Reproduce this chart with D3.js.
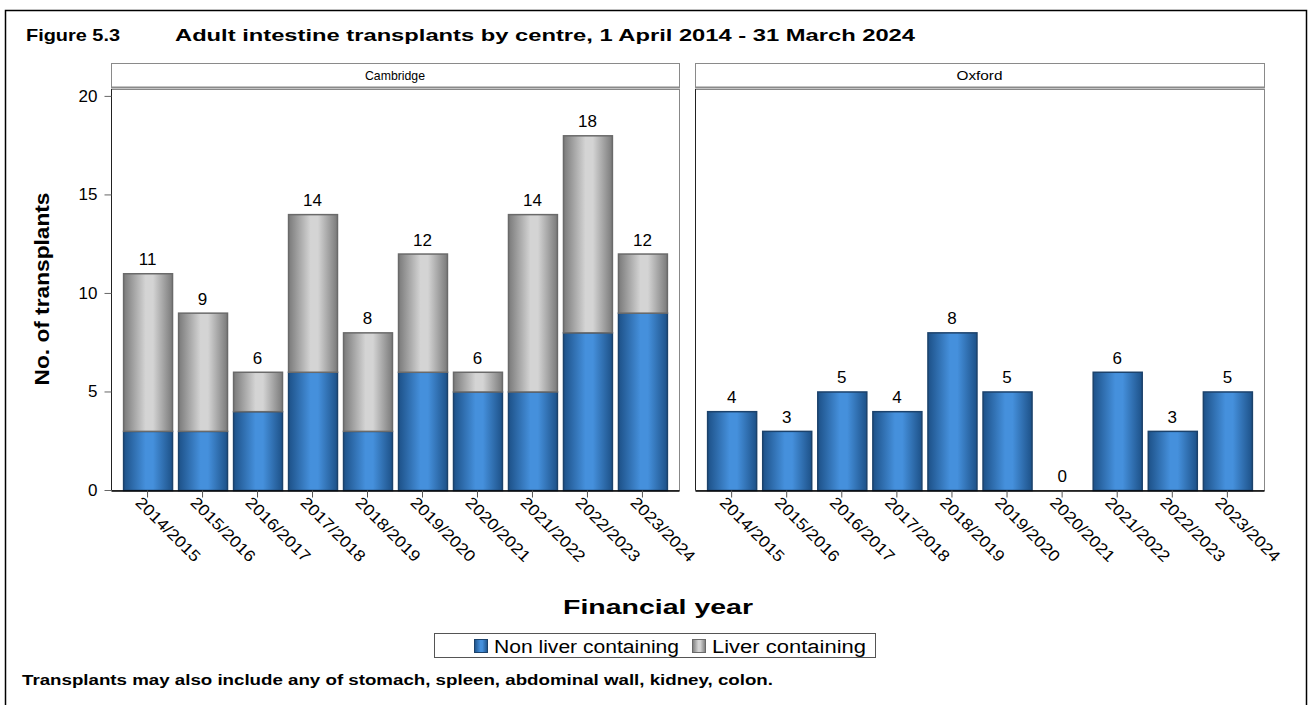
<!DOCTYPE html>
<meta charset="utf-8">
<head>
<style>
  body { margin:0; background:#fff; font-family: Arial, "Liberation Sans", sans-serif; }
  svg text { font-family: Arial, "Liberation Sans", sans-serif; }
</style>
</head>
<body>
<svg id="chart" width="1309" height="705"></svg>
<script src="https://cdn.jsdelivr.net/npm/d3@7"></script>
<script>

// data
var years = ["2014/2015","2015/2016","2016/2017","2017/2018","2018/2019","2019/2020","2020/2021","2021/2022","2022/2023","2023/2024"]
var centres = ["Cambridge","Oxford"]
var camNonLiver = [3,3,4,6,3,6,5,5,8,9]
var camLiver    = [8,6,2,8,5,6,1,9,10,3]
var oxfNonLiver = [4,3,5,4,8,5,0,6,3,5]
var oxfLiver    = [0,0,0,0,0,0,0,0,0,0]
var yTicks = [0,5,10,15,20]
var seriesNames = ["Non liver containing","Liver containing"]

var svg = d3.select("#chart")

// outer frame (bottom edge is off the picture)
svg.append("rect").attr("x",5.5).attr("y",10.5).attr("width",1301).attr("height",720)
  .attr("fill","none").attr("stroke","#000").attr("stroke-width",1.5)

// small helper: text stretched to a width, like the original output
function label(x, y, txt, size, width, bold, anchor) {
  var t = svg.append("text").attr("x",x).attr("y",y).text(txt)
    .style("font-size",size+"px").attr("text-anchor",anchor || "start")
  if (bold) t.style("font-weight","bold")
  if (width) t.attr("textLength",width).attr("lengthAdjust","spacingAndGlyphs")
  return t
}

// title
label(26, 41, "Figure 5.3", 17, 94, true)
label(175, 41, "Adult intestine transplants by centre, 1 April 2014 - 31 March 2024", 17, 740, true)

// gradients
var defs = svg.append("defs")
function grad(id, edge, mid) {
  var g = defs.append("linearGradient").attr("id",id).attr("x1","0%").attr("x2","100%").attr("y1","0%").attr("y2","0%")
  g.append("stop").attr("offset","0%").attr("stop-color",edge)
  g.append("stop").attr("offset","45%").attr("stop-color",mid)
  g.append("stop").attr("offset","60%").attr("stop-color",mid)
  g.append("stop").attr("offset","100%").attr("stop-color",edge)
}
grad("gBlue","#1d5188","#4590dc")
grad("gGrey","#7a7a7a","#d4d4d4")
var fills = ["url(#gBlue)","url(#gGrey)"]
var strokes = ["#1c426b","#6a6a6a"]

var plotTop = 89, plotBottom = 490
var panels = [
  {name:"Cambridge", x0:111, x1:679, series:[camNonLiver,camLiver], w:60},
  {name:"Oxford",    x0:695, x1:1264, series:[oxfNonLiver,oxfLiver], w:46}
]

var y = d3.scaleLinear().domain([0,20.35]).range([plotBottom, plotTop])

panels.forEach(function(p, pi){
  var g = svg.append("g")

  // strip header
  g.append("rect").attr("x",p.x0+0.5).attr("y",63.5).attr("width",p.x1-p.x0).attr("height",24)
    .attr("fill","#fff").attr("stroke","#8a8a8a").attr("stroke-width",1)
  g.append("line").attr("x1",p.x0).attr("x2",p.x1+1).attr("y1",87.5).attr("y2",87.5)
    .attr("stroke","#8a8a8a").attr("stroke-width",2)
  g.append("text").attr("x",(p.x0+p.x1)/2).attr("y",80).attr("text-anchor","middle")
    .text(p.name).style("font-size","13px")
    .attr("textLength",p.w).attr("lengthAdjust","spacingAndGlyphs")

  // plot frame
  g.append("rect").attr("x",p.x0+0.5).attr("y",plotTop+0.5).attr("width",p.x1-p.x0).attr("height",plotBottom-plotTop)
    .attr("fill","none").attr("stroke","#888").attr("stroke-width",1)
  g.append("line").attr("x1",p.x0+0.5).attr("x2",p.x0+0.5).attr("y1",plotTop).attr("y2",plotBottom)
    .attr("stroke","#222")

  var x = d3.scaleBand().domain(years).range([p.x0, p.x1]).paddingInner(0.11).paddingOuter(0.22)

  // stack data
  var rows = years.map(function(yr,i){ return {year:yr, a:p.series[0][i], b:p.series[1][i]} })
  var stacked = d3.stack().keys(["a","b"])(rows)

  stacked.forEach(function(layer, li){
    g.selectAll(".bar"+li)
      .data(layer.filter(function(d){ return d[1] > d[0] }))
      .enter()
      .append("rect")
        .attr("x", function(d){ return x(d.data.year) + 0.5 })
        .attr("y", function(d){ return y(d[1]) + 0.5 })
        .attr("width", x.bandwidth())
        .attr("height", function(d){ return y(d[0]) - y(d[1]) })
        .attr("fill", fills[li])
        .attr("stroke", strokes[li])
        .attr("stroke-width", 1.5)
  })

  // totals
  g.selectAll(".tot")
    .data(rows)
    .enter()
    .append("text")
      .attr("x", function(d){ return x(d.year) + x.bandwidth()/2 })
      .attr("y", function(d){ return y(d.a + d.b) - 8 })
      .attr("text-anchor","middle")
      .style("font-size","17px")
      .text(function(d){ return d.a + d.b })

  // x axis
  var xAxis = g.append("g").attr("transform","translate(0," + (plotBottom+0.5) + ")")
    .call(d3.axisBottom(x).tickSize(7).tickSizeOuter(0))
  xAxis.select(".domain").attr("stroke","#000").attr("stroke-width",1.5)
  xAxis.selectAll(".tick line").attr("stroke","#555")
  xAxis.selectAll(".tick text")
    .style("font-size","16px").style("fill","#000")
    .attr("text-anchor","start")
    .attr("dy",0)
    .attr("transform","translate(-13,13) rotate(45)")
    .attr("y",0)
    .attr("x",0)
    .attr("textLength",84).attr("lengthAdjust","spacingAndGlyphs")

  // y axis (labels on left panel only)
  var yAxis = g.append("g").attr("transform","translate(" + (p.x0+0.5) + ",0)")
    .call(d3.axisLeft(y).tickValues(yTicks).tickSize(7).tickSizeOuter(0))
  yAxis.select(".domain").remove()
  yAxis.selectAll(".tick line").attr("stroke","#666")
  yAxis.selectAll(".tick text").style("font-size","17px").style("fill","#000").attr("x",-14)
  if (pi == 1) yAxis.remove()
})

// axis titles
svg.append("text").attr("transform","translate(49,289) rotate(-90)").attr("text-anchor","middle")
  .text("No. of transplants").style("font-size","20px").style("font-weight","bold")
  .attr("textLength",193).attr("lengthAdjust","spacingAndGlyphs")
label(658, 614, "Financial year", 20, 190, true, "middle")

// legend
var lg = svg.append("g")
lg.append("rect").attr("x",434.5).attr("y",633.5).attr("width",441).attr("height",24)
  .attr("fill","#fff").attr("stroke","#555")
var legX = [474, 692], legW = [185, 154]
seriesNames.forEach(function(n,i){
  lg.append("rect").attr("x",legX[i]+0.5).attr("y",639.5).attr("width",13).attr("height",13)
    .attr("fill",fills[i]).attr("stroke",strokes[i])
  lg.append("text").attr("x",legX[i]+20).attr("y",652.5).text(n).style("font-size","18px")
    .attr("textLength",legW[i]).attr("lengthAdjust","spacingAndGlyphs")
})

// footnote
label(22, 685, "Transplants may also include any of stomach, spleen, abdominal wall, kidney, colon.", 14, 751, true)

</script>
</body>
